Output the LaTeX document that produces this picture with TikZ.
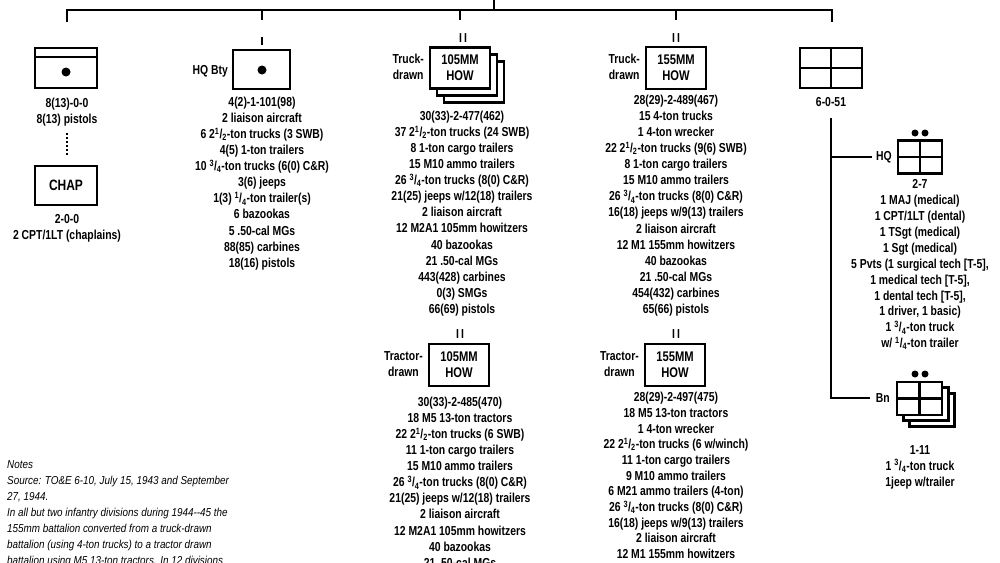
\documentclass[tikz,border=0pt]{standalone}
\usepackage{fontspec}
\setmainfont{Liberation Sans}[FakeStretch=0.8]
\newfontfamily\notefont{Liberation Sans}[FakeStretch=0.86]
\newcommand{\fr}[2]{\textsuperscript{#1}/\textsubscript{#2}}
\begin{document}
\begin{tikzpicture}[x=1pt,y=-1pt,
  txt/.style={font=\fontsize{13}{16.05}\selectfont\bfseries, align=center, inner sep=0, anchor=north},
  lbl/.style={font=\fontsize{13}{16.5}\selectfont\bfseries, align=center, inner sep=0},
  unit/.style={draw, line width=2.2pt, fill=white, inner sep=0},
  ln/.style={line width=2.2pt},
  dot/.style={circle, fill=black, inner sep=0, minimum size=9pt}]
\useasboundingbox (0,0) rectangle (1000,562);
\clip (0,0) rectangle (1000,562);
% top tree
\coordinate (top) at (494,0);
\coordinate (tc) at (494,10);
\coordinate (tl) at (67,10);
\coordinate (tr) at (832,10);
\draw[ln] (top) -- (tc);
\draw[ln] (67,22) -- (tl) -- (tr) -- (832,22);
\draw[ln] (262,10) -- (262,20);
\draw[ln] (460,10) -- (460,20);
\draw[ln] (676,10) -- (676,20);
% left: service battery
\node[unit, minimum width=62pt, minimum height=40pt] (svc) at (66,68) {};
\draw[ln] (35,57) -- (97,57);
\node[dot] (svcdot) at (66,72) {};
\node[txt] (svct) at (67,98) {8(13)-0-0\\8(13) pistols};
\coordinate (d1) at (67,133); \coordinate (d2) at (67,155);
\draw[line width=2pt, dash pattern=on 2pt off 2pt] (d1) -- (d2);
\node[unit, minimum width=62pt, minimum height=39pt, lbl, font=\fontsize{15}{16}\selectfont\bfseries] (chap) at (66,185.5) {CHAP};
\node[txt] (chapt) at (67,214) {2-0-0\\2 CPT/1LT (chaplains)};
% HQ Bty
\draw[ln] (262,37) -- (262,45);
\node[unit, minimum width=57pt, minimum height=39pt] (hq) at (261.5,69.5) {};
\node[dot] (hqdot) at (262,70) {};
\node[lbl, anchor=east] (hql) at (228,71) {HQ Bty};
\node[txt] (hqt) at (262,97) {4(2)-1-101(98)\\2 liaison aircraft\\6 2\fr{1}{2}-ton trucks (3 SWB)\\4(5) 1-ton trailers\\10 \fr{3}{4}-ton trucks (6(0) C\&R)\\3(6) jeeps\\1(3) \fr{1}{4}-ton trailer(s)\\6 bazookas\\5 .50-cal MGs\\88(85) carbines\\18(16) pistols};
% Truck-drawn 105
\node[lbl] at (463,38) {I\,I};
\node[unit, minimum width=60pt, minimum height=41pt] (b2) at (474,82) {};
\node[unit, minimum width=60pt, minimum height=41pt] (b1) at (467,75) {};
\node[unit, minimum width=60pt, minimum height=41pt, lbl, font=\fontsize{14}{16}\selectfont\bfseries] (t105) at (460,68) {105MM\\HOW};
\node[lbl, anchor=east] at (424,67) {Truck-\\drawn};
\node[txt] at (462,111) {30(33)-2-477(462)\\37 2\fr{1}{2}-ton trucks (24 SWB)\\8 1-ton cargo trailers\\15 M10 ammo trailers\\26 \fr{3}{4}-ton trucks (8(0) C\&R)\\21(25) jeeps w/12(18) trailers\\2 liaison aircraft\\12 M2A1 105mm howitzers\\40 bazookas\\21 .50-cal MGs\\443(428) carbines\\0(3) SMGs\\66(69) pistols};
% Truck-drawn 155
\node[lbl] at (676,38) {I\,I};
\node[unit, minimum width=60pt, minimum height=42pt, lbl, font=\fontsize{14}{16}\selectfont\bfseries] (t155) at (676,68) {155MM\\HOW};
\node[lbl, anchor=east] at (640,67) {Truck-\\drawn};
\node[txt] at (676,95) {28(29)-2-489(467)\\15 4-ton trucks\\1 4-ton wrecker\\22 2\fr{1}{2}-ton trucks (9(6) SWB)\\8 1-ton cargo trailers\\15 M10 ammo trailers\\26 \fr{3}{4}-ton trucks (8(0) C\&R)\\16(18) jeeps w/9(13) trailers\\2 liaison aircraft\\12 M1 155mm howitzers\\40 bazookas\\21 .50-cal MGs\\454(432) carbines\\65(66) pistols};
% Tractor-drawn 105
\node[lbl] at (460,334) {I\,I};
\node[unit, minimum width=60pt, minimum height=42pt, lbl, font=\fontsize{14}{16}\selectfont\bfseries] (r105) at (459,365) {105MM\\HOW};
\node[lbl, anchor=east] at (423,364) {Tractor-\\drawn};
\node[txt] at (460,397) {30(33)-2-485(470)\\18 M5 13-ton tractors\\22 2\fr{1}{2}-ton trucks (6 SWB)\\11 1-ton cargo trailers\\15 M10 ammo trailers\\26 \fr{3}{4}-ton trucks (8(0) C\&R)\\21(25) jeeps w/12(18) trailers\\2 liaison aircraft\\12 M2A1 105mm howitzers\\40 bazookas\\21 .50-cal MGs};
% Tractor-drawn 155
\node[lbl] at (676,334) {I\,I};
\node[unit, minimum width=60pt, minimum height=42pt, lbl, font=\fontsize{14}{16}\selectfont\bfseries] (r155) at (675,365) {155MM\\HOW};
\node[lbl, anchor=east] at (639,364) {Tractor-\\drawn};
\node[txt, font=\fontsize{13}{15.7}\selectfont\bfseries] at (676,392) {28(29)-2-497(475)\\18 M5 13-ton tractors\\1 4-ton wrecker\\22 2\fr{1}{2}-ton trucks (6 w/winch)\\11 1-ton cargo trailers\\9 M10 ammo trailers\\6 M21 ammo trailers (4-ton)\\26 \fr{3}{4}-ton trucks (8(0) C\&R)\\16(18) jeeps w/9(13) trailers\\2 liaison aircraft\\12 M1 155mm howitzers};
% Medical detachment
\node[unit, minimum width=62pt, minimum height=40pt] (med) at (831,68) {};
\draw[ln] (med.north) -- (med.south);
\draw[ln] (med.west) -- (med.east);
\node[txt] (medt) at (831,97) {6-0-51};
\coordinate (mv1) at (831,118);
\coordinate (mhq) at (831,157);
\coordinate (mbn) at (831,398);
\draw[ln] (mv1) -- (mbn) -- (870,398);
\draw[ln] (mhq) -- (872,157);
% HQ medical
\node[unit, minimum width=44pt, minimum height=33pt] (mh) at (920,157) {};
\draw[ln] (mh.north) -- (mh.south);
\draw[ln] (mh.west) -- (mh.east);
\node[dot, minimum size=7pt] at (915,133) {};
\node[dot, minimum size=7pt] at (925,133) {};
\node[lbl, anchor=east] at (892,157) {HQ};
\node[txt, font=\fontsize{13}{15.9}\selectfont\bfseries] at (920,179.5) {2-7\\1 MAJ (medical)\\1 CPT/1LT (dental)\\1 TSgt (medical)\\1 Sgt (medical)\\5 Pvts (1 surgical tech [T-5],\\1 medical tech [T-5],\\1 dental tech [T-5],\\1 driver, 1 basic)\\1 \fr{3}{4}-ton truck\\w/ \fr{1}{4}-ton trailer};
% Bn medical
\node[unit, minimum width=45pt, minimum height=33pt] (bn3) at (932,410) {};
\node[unit, minimum width=45pt, minimum height=33pt] (bn2) at (926,404) {};
\node[unit, minimum width=45pt, minimum height=33pt] (bn1) at (919.5,398.5) {};
\draw[ln] (bn1.north) -- (bn1.south);
\draw[ln] (bn1.west) -- (bn1.east);
\node[dot, minimum size=7pt] at (915,374) {};
\node[dot, minimum size=7pt] at (925,374) {};
\node[lbl, anchor=east] at (890,398) {Bn};
\node[txt] at (920,445) {1-11\\1 \fr{3}{4}-ton truck\\1jeep w/trailer};
% Notes
\node[font=\notefont\fontsize{11.5}{16}\selectfont\itshape, align=left, inner sep=0, anchor=north west] (notes) at (7,460) {Notes\\Source: TO\&E 6-10, July 15, 1943 and September\\27, 1944.\\In all but two infantry divisions during 1944--45 the\\155mm battalion converted from a truck-drawn\\battalion (using 4-ton trucks) to a tractor drawn\\battalion using M5 13-ton tractors. In 12 divisions};
\end{tikzpicture}
\end{document}
